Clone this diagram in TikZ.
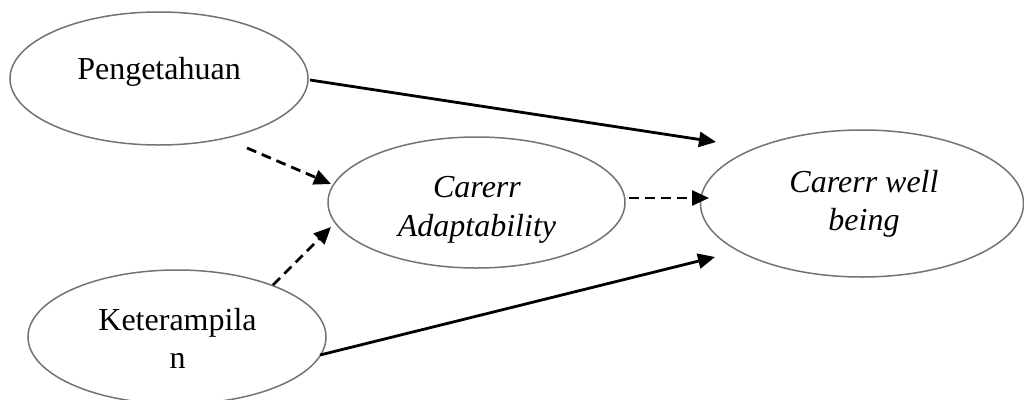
\documentclass[tikz,border=0pt]{standalone}
\usepackage{fontspec}
\setmainfont{Liberation Serif}
\usetikzlibrary{shapes.geometric,arrows.meta}
\begin{document}
\begin{tikzpicture}[x=1pt,y=-1pt,
  oval/.style={draw=black!55, line width=1.5pt, ellipse, inner sep=0pt},
  lbl/.style={font=\fontsize{32}{38}\selectfont, inner sep=0pt, anchor=base},
  ilbl/.style={lbl, font=\fontsize{32}{38}\selectfont\itshape},
  solidarr/.style={-{Triangle[length=17pt,width=15pt]}, line width=2.8pt},
  dasharr/.style={solidarr, dash pattern=on 10pt off 6pt}]
\useasboundingbox (0,0) rectangle (1024,399);
\fill[white] (0,0) rectangle (1024,399);
% ellipses
\node[oval, minimum width=298pt, minimum height=133pt] (peng) at (159,78.5) {};
\node[oval, minimum width=297pt, minimum height=131pt] (adapt) at (476.5,202.5) {};
\node[oval, minimum width=323pt, minimum height=147pt] (well) at (862,203.5) {};
\node[oval, minimum width=298pt, minimum height=134pt] (ket) at (177,337) {};
% labels
\node[lbl] (tpeng) at (159,79) {Pengetahuan};
\node[ilbl] (tadapt1) at (477,197) {Carerr};
\node[ilbl] (tadapt2) at (477,236) {Adaptability};
\node[ilbl] (twell1) at (864,192) {Carerr well};
\node[ilbl] (twell2) at (864,230) {being};
\node[lbl] (tket1) at (177.5,330) {Keterampila};
\node[lbl] (tket2) at (177.5,368) {n};
% connector ends
\coordinate (a1s) at (310,80);
\coordinate (a1e) at (716,142);
\coordinate (a2s) at (247,148);
\coordinate (a2e) at (331,184);
\coordinate (a3s) at (273,285);
\coordinate (a3e) at (331,227);
\coordinate (a4s) at (629,198);
\coordinate (a4e) at (709,198);
\coordinate (a5s) at (320,355);
\coordinate (a5e) at (715,257);
\draw[solidarr] (a1s) -- (a1e);
\draw[dasharr] (a2s) -- (a2e);
\draw[dasharr] (a3s) -- (a3e);
\draw[dasharr] (a4s) -- (a4e);
\draw[solidarr] (a5s) -- (a5e);
\end{tikzpicture}
\end{document}
